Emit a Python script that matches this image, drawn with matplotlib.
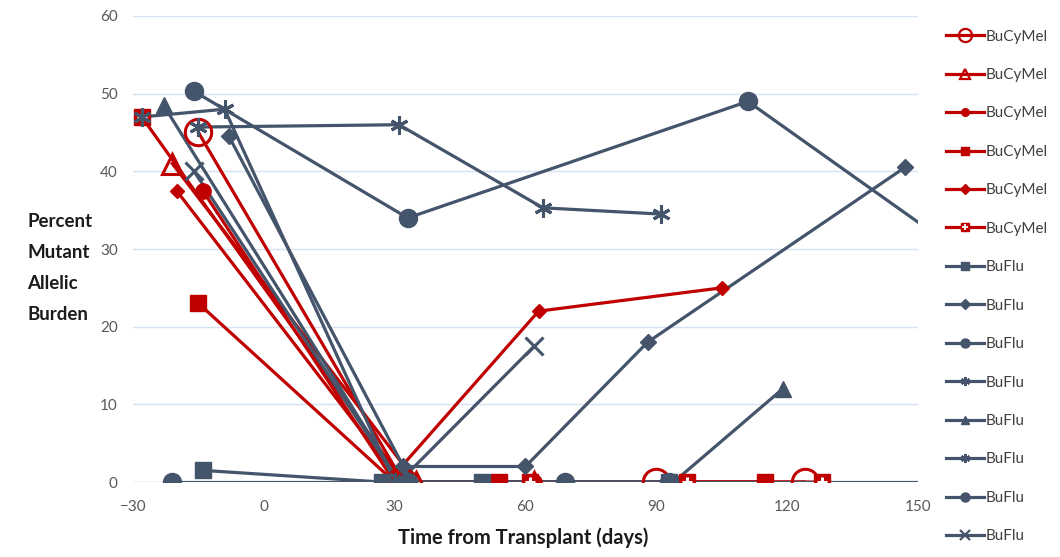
import matplotlib
matplotlib.use("Agg")
import matplotlib.pyplot as plt
from matplotlib.lines import Line2D
from matplotlib.legend_handler import HandlerTuple

plt.rcParams["font.family"] = ["Lato", "DejaVu Sans"]

RED = "#C00000"
BLUE = "#44546A"
GRID = "#D6E2F3"
TICK = "#595959"

# BuCyMel patients
cym_open_circle_x = [-15, 32, 90, 124]
cym_open_circle_y = [45, 0, 0, 0]
cym_open_tri_x = [-21, 35, 62]
cym_open_tri_y = [41, 0, 0]
cym_circle_x = [-14, 30, 62]
cym_circle_y = [37.5, 0, 0]
cym_square_x = [-15, 30, 54, 115]
cym_square_y = [23, 0, 0, 0]
cym_diamond_x = [-20, 30, 63, 105]
cym_diamond_y = [37.5, 1, 22, 25]
cym_plus_x = [-28, 32, 61, 97, 128]
cym_plus_y = [47, 0, 0, 0, 0]

# BuFlu patients
flu_square_x = [-14, 27, 50, 93]
flu_square_y = [1.5, 0, 0, 0]
flu_diamond_x = [-8, 32, 60, 88, 147]
flu_diamond_y = [44.5, 2, 2, 18, 40.5]
flu_circle_x = [-16, 33, 111, 175]
flu_circle_y = [50.3, 34, 49, 23.5]
flu_star_a_x = [-28, -9, 30]
flu_star_a_y = [47, 48, 0]
flu_tri_x = [-23, 31, 94, 119]
flu_tri_y = [48.5, 0, 0, 12]
flu_star_b_x = [-15, 31, 64, 91]
flu_star_b_y = [45.7, 46, 35.3, 34.5]
flu_circle2_x = [-21, 33, 69, 93, 160]
flu_circle2_y = [0, 0, 0, 0, 0]
flu_x_x = [-16, 31, 62]
flu_x_y = [40, 0, 17.5]

STAR = (6, 2, 0)

# (x, y, color, marker, size, filled, label)
series = [
    (cym_open_circle_x, cym_open_circle_y, RED, "o", 19, False, "BuCyMel"),
    (cym_open_tri_x, cym_open_tri_y, RED, "^", 15, False, "BuCyMel"),
    (cym_circle_x, cym_circle_y, RED, "o", 11, True, "BuCyMel"),
    (cym_square_x, cym_square_y, RED, "s", 11, True, "BuCyMel"),
    (cym_diamond_x, cym_diamond_y, RED, "D", 7, True, "BuCyMel"),
    (cym_plus_x, cym_plus_y, RED, "plus", 12, True, "BuCyMel"),
    (flu_square_x, flu_square_y, BLUE, "s", 11, True, "BuFlu"),
    (flu_diamond_x, flu_diamond_y, BLUE, "D", 8, True, "BuFlu"),
    (flu_circle_x, flu_circle_y, BLUE, "o", 13, True, "BuFlu"),
    (flu_star_a_x, flu_star_a_y, BLUE, STAR, 13, True, "BuFlu"),
    (flu_tri_x, flu_tri_y, BLUE, "^", 12, True, "BuFlu"),
    (flu_star_b_x, flu_star_b_y, BLUE, STAR, 13, True, "BuFlu"),
    (flu_circle2_x, flu_circle2_y, BLUE, "o", 13, True, "BuFlu"),
    (flu_x_x, flu_x_y, BLUE, "x", 13, True, "BuFlu"),
]


def marker_kw(color, marker, size, filled, legend=False):
    if legend:
        size = max(5.5, size * 0.5)
    if marker == "plus":
        return [dict(marker="s", markersize=size, markerfacecolor=color, markeredgecolor=color),
                dict(marker="+", markersize=size * 0.65, markeredgecolor="white",
                     markeredgewidth=2.2 if not legend else 1.3)]
    thin = marker == "x" or marker == STAR or not filled
    kw = dict(marker=marker, markersize=size, markeredgecolor=color,
              markeredgewidth=(2.2 if not legend else 1.6) if thin else 1.0)
    kw["markerfacecolor"] = color if filled else "none"
    return [kw]


def main():
    fig = plt.figure(figsize=(10.6, 5.57), dpi=100)
    ax = fig.add_axes([0.1255, 0.1346, 0.7405, 0.8367])

    handles, labels = [], []
    for i, (x, y, color, marker, size, filled, label) in enumerate(series):
        ax.plot(x, y, color=color, linewidth=2.3, zorder=2 + i * 0.01, clip_on=True)
        for kw in marker_kw(color, marker, size, filled):
            ax.plot(x, y, linestyle="none", zorder=3 + i * 0.01, clip_on=True, **kw)
        parts = []
        for j, kw in enumerate(marker_kw(color, marker, size, filled, legend=True)):
            parts.append(Line2D([], [], color=color, linewidth=2.3 if j == 0 else 0, **kw))
        handles.append(tuple(parts) if len(parts) > 1 else parts[0])
        labels.append(label)

    ax.set_xlim(-30, 150)
    ax.set_ylim(0, 60)
    ax.set_xticks(range(-30, 151, 30))
    ax.set_yticks(range(0, 61, 10))
    for v in range(10, 61, 10):
        ax.axhline(v, color=GRID, linewidth=1.0, zorder=0)
    ax.axhline(0, color="#BFBFBF", linewidth=1.0, zorder=0)
    for s in ax.spines.values():
        s.set_visible(False)
    ax.tick_params(length=0, labelsize=11, labelcolor=TICK)
    ax.tick_params(axis="x", pad=13)
    ax.tick_params(axis="y", pad=11)

    fig.text(0.026, 0.518, "Percent\nMutant\nAllelic\nBurden", ha="left", va="center",
             fontsize=13.5, fontweight="bold", color="#1B1B1B", linespacing=2.0)
    fig.text(0.494, 0.035, "Time from Transplant (days)", ha="center", va="center",
             fontsize=14.5, fontweight="bold", color="#1B1B1B")

    fig.legend(handles, labels, loc="upper left", bbox_to_anchor=(0.892, 0.947),
               frameon=False, fontsize=11, labelspacing=1.6, handlelength=2.5,
               handletextpad=0.15, labelcolor="#404040", borderaxespad=0, borderpad=0,
               handler_map={tuple: HandlerTuple(ndivide=1, pad=0)})

    fig.savefig("out.png", dpi=100)
    plt.close(fig)


if __name__ == "__main__":
    main()
